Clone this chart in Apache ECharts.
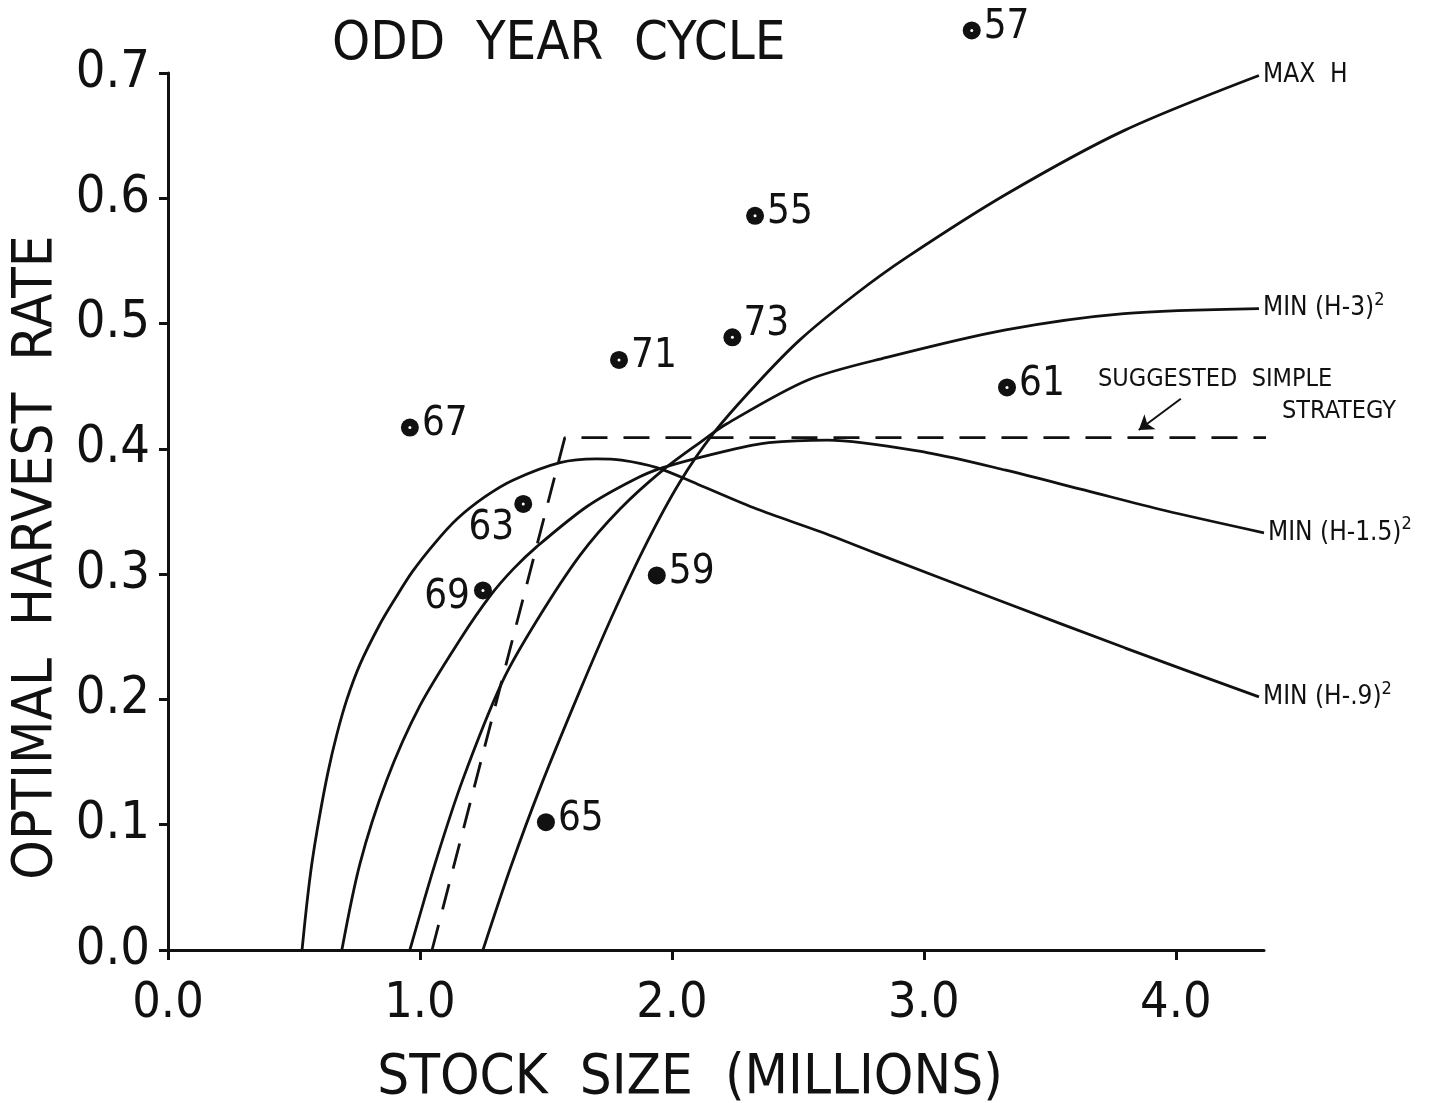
<!DOCTYPE html>
<html>
<head>
<meta charset="utf-8">
<title>Odd year cycle – optimal harvest rate</title>
<script src="https://cdn.jsdelivr.net/npm/echarts@6/dist/echarts.min.js"></script>
<style>
  html, body { margin: 0; padding: 0; background: #fff; }
  #chart { width: 1441px; height: 1103px; }
</style>
</head>
<body>
<div id="chart"></div>
<script>
// ---- data -------------------------------------------------------------
const xTicks = [0, 1, 2, 3, 4];
const yTicks = [0, 0.1, 0.2, 0.3, 0.4, 0.5, 0.6, 0.7];

// observed harvest rate by brood year (stock size in millions)
const years = ['55', '57', '59', '61', '63', '65', '67', '69', '71', '73'];
const stock = [2.33, 3.19, 1.94, 3.33, 1.41, 1.50, 0.96, 1.25, 1.79, 2.24];
const rate  = [0.586, 0.734, 0.299, 0.449, 0.356, 0.102, 0.417, 0.287, 0.471, 0.489];
// years plotted with an open centre in the marker
const openCentreYears = ['55', '57', '61', '63', '67', '69', '71', '73'];

// optimal policy curves [stock, harvest rate]
const maxH = [[1.25,0],[1.36,0.066],[1.48,0.131],[1.635,0.207],[1.766,0.268],[1.90,0.325],
  [2.03,0.373],[2.163,0.412],[2.337,0.452],[2.508,0.487],[2.726,0.523],[2.933,0.553],
  [3.325,0.603],[3.794,0.654],[4.33,0.698]];
const minH3 = [[0.96,0],[1.06,0.069],[1.17,0.136],[1.329,0.215],[1.464,0.263],[1.635,0.315],
  [1.794,0.352],[1.964,0.383],[2.111,0.405],[2.218,0.42],[2.54,0.455],[2.853,0.473],
  [3.325,0.495],[3.794,0.508],[4.33,0.512]];
const minH15 = [[0.69,0],[0.762,0.069],[0.869,0.136],[1.0,0.195],[1.16,0.248],[1.28,0.283],
  [1.37,0.304],[1.464,0.322],[1.663,0.354],[1.845,0.375],[1.964,0.385],[2.23,0.399],[2.385,0.405],
  [2.619,0.407],[3.012,0.397],[3.325,0.383],[3.639,0.367],[3.952,0.351],[4.35,0.333]];
const minH09 = [[0.532,0],[0.55,0.035],[0.571,0.069],[0.60,0.105],[0.635,0.142],[0.67,0.172],
  [0.71,0.2],[0.762,0.228],[0.841,0.26],[0.90,0.28],[0.97,0.302],[1.06,0.325],[1.147,0.344],
  [1.26,0.362],[1.369,0.375],[1.556,0.389],[1.70,0.392],[1.80,0.391],[1.94,0.385],[2.10,0.372],
  [2.337,0.352],[2.587,0.334],[2.806,0.317],[3.30,0.279],[3.80,0.241],[4.33,0.202]];
// suggested simple strategy (dashed)
const simpleStrategy = [[1.048,0],[1.575,0.409],[4.476,0.409]];

// ---- chart ------------------------------------------------------------
const FONT = '"Liberation Sans Narrow","DejaVu Sans Condensed","Roboto Condensed","Liberation Sans",sans-serif';
const INK = '#111';

const chart = echarts.init(document.getElementById('chart'), null, { renderer: 'canvas' });

function curve(name, data, labelRich) {
  return {
    name, type: 'line', data,
    showSymbol: false, smooth: 0.3,
    lineStyle: { color: INK, width: 2.8 },
    endLabel: {
      show: true, distance: 4,
      formatter: labelRich,
      rich: {
        a: { fontFamily: FONT, fontSize: 26, color: INK, lineHeight: 30 },
        s: { fontFamily: FONT, fontSize: 18, color: INK, padding: [0, 0, 16, 0] }
      }
    },
    silent: true, z: 3
  };
}

const labelPlacement = {
  '63': { position: 'left', distance: 0, offset: [0, 25] },
  '69': { position: 'left', distance: 4, offset: [0, 7] },
  '73': { position: 'right', distance: 2, offset: [0, -13] }
};

const pointData = years.map((y, i) => {
  const p = labelPlacement[y] || { position: 'right', distance: 3, offset: [0, -3] };
  return { value: [stock[i], rate[i]], name: y, label: p };
});
const centreData = years
  .map((y, i) => [stock[i], rate[i], y])
  .filter(d => openCentreYears.includes(d[2]));

chart.setOption({
  animation: false,
  backgroundColor: '#fff',
  grid: { left: 168, right: 177, top: 73, bottom: 153, containLabel: false, outerBoundsMode: 'none' },
  xAxis: {
    type: 'value', min: 0, max: 4.35,
    name: 'STOCK  SIZE  (MILLIONS)', nameLocation: 'middle', nameGap: 100,
    nameTextStyle: { fontFamily: FONT, fontSize: 56, color: INK, padding: [0, 52, 0, 0] },
    axisLine: { show: true, lineStyle: { color: INK, width: 3 } },
    axisTick: { show: true, length: 10, lineStyle: { color: INK, width: 3 }, customValues: xTicks },
    axisLabel: { fontFamily: FONT, fontSize: 50, color: INK, margin: 29,
      customValues: xTicks, formatter: v => v.toFixed(1) },
    splitLine: { show: false }
  },
  yAxis: {
    type: 'value', min: 0, max: 0.7, interval: 0.1,
    name: 'OPTIMAL  HARVEST  RATE', nameLocation: 'middle', nameGap: 104,
    nameTextStyle: { fontFamily: FONT, fontSize: 56, color: INK, padding: [0, 92, 0, 0] },
    axisLine: { show: true, lineStyle: { color: INK, width: 3 } },
    axisTick: { show: true, length: 9, lineStyle: { color: INK, width: 3 }, customValues: yTicks },
    axisLabel: { fontFamily: FONT, fontSize: 52, color: INK, margin: 18,
      customValues: yTicks, formatter: v => v.toFixed(1) },
    splitLine: { show: false }
  },
  graphic: [
    { type: 'text', left: 332, top: 18,
      style: { text: 'ODD  YEAR  CYCLE', fontFamily: FONT, fontSize: 54, fill: INK } },
    { type: 'text', left: 1098, top: 367,
      style: { text: 'SUGGESTED  SIMPLE', fontFamily: FONT, fontSize: 25, fill: INK } },
    { type: 'text', left: 1282, top: 399,
      style: { text: 'STRATEGY', fontFamily: FONT, fontSize: 25, fill: INK } }
  ],
  series: [
    curve('MAX H', maxH, () => '{a|MAX  H}'),
    curve('MIN (H-3)²', minH3, () => '{a|MIN (H-3)}{s|2}'),
    curve('MIN (H-1.5)²', minH15, () => '{a|MIN (H-1.5)}{s|2}'),
    curve('MIN (H-.9)²', minH09, () => '{a|MIN (H-.9)}{s|2}'),
    {
      name: 'Suggested simple strategy', type: 'line', data: simpleStrategy,
      showSymbol: false, clip: false, silent: true, z: 3,
      lineStyle: { color: INK, width: 2.8, type: [26, 16] },
      markLine: {
        silent: true, symbol: ['none', 'arrow'], symbolSize: 14,
        lineStyle: { type: 'solid', color: INK, width: 2 },
        label: { show: false },
        data: [[{ coord: [4.02, 0.440] }, { coord: [3.853, 0.415] }]]
      }
    },
    {
      name: 'Observed', type: 'scatter', data: pointData, clip: false, z: 5,
      symbol: 'circle', symbolSize: 18,
      itemStyle: { color: INK, opacity: 1 },
      label: { show: true, formatter: p => p.name,
        fontFamily: FONT, fontSize: 40, color: INK }
    },
    {
      name: 'Open centre', type: 'scatter', data: centreData, clip: false, z: 6,
      symbol: 'circle', symbolSize: 3, silent: true,
      itemStyle: { color: '#fff', opacity: 1 }
    }
  ]
});
</script>
</body>
</html>
